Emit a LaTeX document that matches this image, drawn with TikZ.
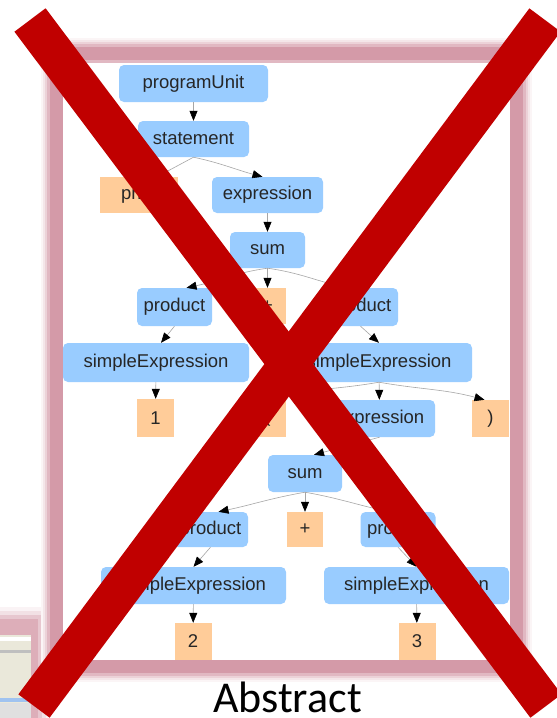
\documentclass[tikz,border=0pt]{standalone}
\usepackage{fontspec}
\setmainfont{Liberation Sans}
\newfontfamily\captionfont{Carlito}
\usetikzlibrary{arrows.meta}
\definecolor{nodeblue}{RGB}{153,204,255}
\definecolor{leaforange}{RGB}{255,204,153}
\definecolor{framepink}{RGB}{212,154,168}
\definecolor{crossred}{RGB}{192,0,0}
\definecolor{panebeige}{RGB}{234,232,218}
\definecolor{panestripe}{RGB}{160,195,240}
\tikzstyle{rule}=[fill=nodeblue, rounded corners=5pt, inner sep=0, text=black!85, font=\fontsize{18.5}{20}\selectfont]
\tikzstyle{token}=[fill=leaforange, inner sep=0, minimum width=37pt, minimum height=37pt, text=black!85, font=\fontsize{18.5}{20}\selectfont]
\tikzstyle{branch}=[draw=black!35, line width=0.6pt, -{Triangle[length=10pt,width=8pt,color=black]}]
\tikzstyle{strike}=[crossred, line width=39pt]

\begin{document}
\begin{tikzpicture}[x=1pt,y=1pt]
      \useasboundingbox (0,0) rectangle (557,-718);

      \fill[framepink!12] (-20,-607) rectangle (50,-740);
      \fill[framepink!30] (-20,-611) rectangle (46,-740);
      \fill[framepink!55] (-20,-615) rectangle (42,-740);
      \fill[framepink!80] (-20,-619) rectangle (38,-740);
      \fill[panebeige] (-20,-635) rectangle (31,-740);
      \fill[white] (-20,-637) rectangle (31,-641);
      \fill[black!25] (-20,-650) rectangle (31,-653);
      \fill[panestripe] (-20,-698) rectangle (31,-702);
      \fill[black!12] (-20,-703) rectangle (31,-740);

      \draw[framepink!10, line width=31pt] (56.5,-53.5) rectangle (516.5,-666.5);
      \draw[framepink!25, line width=27pt] (56.5,-53.5) rectangle (516.5,-666.5);
      \draw[framepink!45, line width=23pt] (56.5,-53.5) rectangle (516.5,-666.5);
      \draw[framepink!70, line width=19pt] (56.5,-53.5) rectangle (516.5,-666.5);
      \fill[white] (63,-63) rectangle (510,-660);
      \draw[framepink, line width=13pt] (56.5,-53.5) rectangle (516.5,-666.5);

      \node[rule, minimum width=149pt, minimum height=37pt] (programUnit) at (193.5,-83.5) {programUnit};
      \node[rule, minimum width=111pt, minimum height=36pt] (statement) at (193.5,-139) {statement};
      \node[token, minimum width=78pt, minimum height=36pt] (print) at (139,-195) {print};
      \node[rule, minimum width=111pt, minimum height=36pt] (expr1) at (267.5,-195) {expression};
      \node[rule, minimum width=75pt, minimum height=36pt] (sum1) at (267.5,-250) {sum};
      \node[rule, minimum width=75pt, minimum height=38pt] (prodA) at (174.5,-307) {product};
      \node[token, minimum height=36pt] (plusA) at (267.5,-306) {+};
      \node[rule, minimum width=75pt, minimum height=38pt] (prodB) at (360.5,-307) {product};
      \node[rule, minimum width=186pt, minimum height=39pt] (simpA) at (156,-362.5) {simpleExpression};
      \node[rule, minimum width=186pt, minimum height=39pt] (simpB) at (379,-362.5) {simpleExpression};
      \node[token, minimum height=38pt] (one) at (155.5,-418) {1};
      \node[token, minimum height=38pt] (lpar) at (267.5,-418) {(};
      \node[rule, minimum width=111pt, minimum height=37pt] (expr2) at (379.5,-418.5) {expression};
      \node[token] (rpar) at (490.5,-418.5) {)};
      \node[rule, minimum width=74pt, minimum height=37pt] (sum2) at (305,-473.5) {sum};
      \node[rule, minimum width=75pt, minimum height=35pt] (prodC) at (210.5,-529.5) {product};
      \node[token, minimum width=36pt, minimum height=35pt] (plusB) at (305,-529.5) {+};
      \node[rule, minimum width=75pt, minimum height=35pt] (prodD) at (398,-529.5) {product};
      \node[rule, minimum width=185pt, minimum height=37pt] (simpC) at (193.5,-585.5) {simpleExpression};
      \node[rule, minimum width=185pt, minimum height=37pt] (simpD) at (416.5,-585.5) {simpleExpression};
      \node[token] (two) at (193,-641.5) {2};
      \node[token] (three) at (417,-641.5) {3};

      \draw[branch] (programUnit) -- (statement);
      \draw[branch] (statement.south) -- ([xshift=18pt]print.north);
      \draw[branch] (statement.south) to[out=-12,in=165] ([xshift=-5pt]expr1.north);
      \draw[branch] (expr1) -- (sum1);
      \draw[branch] (sum1.south) to[out=188,in=12] ([xshift=12pt]prodA.north);
      \draw[branch] (sum1) -- (plusA);
      \draw[branch] (sum1.south) to[out=-8,in=168] ([xshift=-12pt]prodB.north);
      \draw[branch] (prodA.south) -- ([xshift=5pt]simpA.north);
      \draw[branch] (prodB.south) -- (simpB.north);
      \draw[branch] (simpA) -- (one);
      \draw[branch] (simpB.south) to[out=190,in=15] ([xshift=8pt]lpar.north);
      \draw[branch] (simpB) -- (expr2);
      \draw[branch] (simpB.south) to[out=-10,in=165] ([xshift=-6pt]rpar.north);
      \draw[branch] (expr2.south) -- ([xshift=9pt]sum2.north);
      \draw[branch] (sum2.south) to[out=190,in=12] ([xshift=8pt]prodC.north);
      \draw[branch] (sum2) -- (plusB);
      \draw[branch] (sum2.south) to[out=-10,in=168] ([xshift=-8pt]prodD.north);
      \draw[branch] (prodC.south) -- (simpC.north);
      \draw[branch] (prodD.south) -- (simpD.north);
      \draw[branch] (simpC) -- (two);
      \draw[branch] (simpD) -- (three);

      \draw[strike] (30,-20) -- (546,-706);
      \draw[strike] (545,-20) -- (34,-706);

      \node[font=\captionfont\fontsize{44}{48}\selectfont, anchor=base, inner sep=0] (caption) at (287.5,-712) {Abstract};
    \end{tikzpicture}
\end{document}
